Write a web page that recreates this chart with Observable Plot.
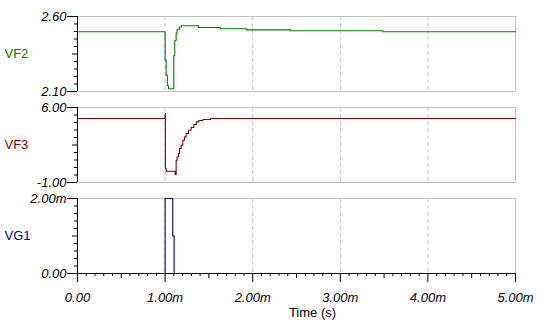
<!DOCTYPE html>
<html>
<head>
<meta charset="utf-8">
<script src="https://cdn.jsdelivr.net/npm/d3@7"></script>
<script src="https://cdn.jsdelivr.net/npm/@observablehq/plot@0.6"></script>
<style>
  html, body { margin: 0; padding: 0; background: #fff; }
  #chart { position: relative; width: 557px; height: 328px; overflow: hidden; }
  #chart svg { position: absolute; left: 0; }
</style>
</head>
<body>
<div id="chart"></div>
<script>
// ---- data (time in ms) ----
const xTicks = [0, 1, 2, 3, 4, 5];
const xTickLabels = ["0.00", "1.00m", "2.00m", "3.00m", "4.00m", "5.00m"];
const xAxisLabel = "Time (s)";

const seriesNames = ["VF2", "VF3", "VG1"];
const seriesColors = ["#008000", "#800000", "#000080"];

const vf2Time  = [0, 1.0, 1.012, 1.026, 1.038, 1.087, 1.099, 1.11, 1.126, 1.137, 1.164, 1.187, 1.381, 1.63, 1.928, 2.432, 3.486, 5];
const vf2Value = [2.498, 2.31, 2.21, 2.14, 2.118, 2.12, 2.34, 2.44, 2.49, 2.515, 2.53, 2.538, 2.527, 2.518, 2.511, 2.505, 2.498, 2.498];
const vf2Domain = [2.10, 2.60];
const vf2TickLabels = ["2.10", "2.60"];

const vf3Time  = [0, 1.0, 1.003, 1.012, 1.114, 1.126, 1.137, 1.152, 1.164, 1.183, 1.202, 1.221, 1.240, 1.267, 1.297, 1.328, 1.355, 1.385, 1.431, 1.519, 5];
const vf3Value = [4.97, 5.44, 0.31, 0.055, -0.256, 1.08, 1.39, 1.70, 2.17, 2.48, 2.95, 3.26, 3.57, 3.88, 4.13, 4.41, 4.66, 4.78, 4.88, 4.97, 4.97];
const vf3Domain = [-1, 6];
const vf3TickLabels = ["-1.00", "6.00"];

const vg1Time  = [0, 1.0, 1.087, 1.103, 5];
const vg1Value = [0, 2, 1, 0, 0]; // in mV
const vg1Domain = [0, 2];
const vg1TickLabels = ["0.00", "2.00m"];

const gridTimes = [1, 2, 3, 4];

// ---- layout ----
const W = 557, ML = 77, MR = 42, MT = 16, PH = 75;
const FONT = "'Liberation Sans', Arial, sans-serif";
const GRAY = "#c0c0c0";
const chart = document.getElementById("chart");
const blank = () => "";

function panel({times, values, domain, tickLabels, name, color, top, isLast}) {
  const [lo, hi] = domain;
  const span = hi - lo;
  const minor = d3.range(1, 10).filter(i => i !== 5).map(i => lo + span * i / 10);
  const data = times.map((t, i) => ({t, v: values[i]}));
  const marks = [
    Plot.ruleX(gridTimes, {stroke: GRAY, strokeDasharray: "4,3"}),
    Plot.ruleY([hi], {stroke: GRAY}),
    Plot.ruleX([5], {stroke: GRAY}),
    isLast ? null : Plot.ruleY([lo], {stroke: GRAY}),
    Plot.ruleX([0], {stroke: "#000"}),
    Plot.axisY(minor, {tickSize: 3, stroke: "#000", tickFormat: blank, label: null}),
    Plot.axisY([lo + span / 2], {tickSize: 5, stroke: "#000", tickFormat: blank, label: null}),
    Plot.axisY([lo, hi], {tickSize: 10, tickPadding: 1, stroke: "#000",
      tickFormat: d => tickLabels[d === lo ? 0 : 1], fontStyle: "italic", fill: "#000", label: null}),
    Plot.text([name], {text: d => d, frameAnchor: "top-left", dx: -73, dy: 32,
      textAnchor: "start", fill: color})
  ];
  if (isLast) {
    const xMinor = d3.range(0, 51).map(i => i / 10).filter((v, i) => i % 5 !== 0);
    const xHalf = [0.5, 1.5, 2.5, 3.5, 4.5];
    marks.push(
      Plot.ruleY([lo], {stroke: "#000"}),
      Plot.axisX(xMinor, {tickSize: 3, stroke: "#000", tickFormat: blank, label: null}),
      Plot.axisX(xHalf, {tickSize: 5, stroke: "#000", tickFormat: blank, label: null}),
      Plot.axisX(xTicks, {tickSize: 9, tickPadding: 10, stroke: "#000", fill: "#000",
        tickFormat: d => xTickLabels[xTicks.indexOf(d)], fontStyle: "italic", label: null}),
      Plot.text([xAxisLabel], {text: d => d, frameAnchor: "bottom", dx: 16, dy: 43.5, fill: "#000"})
    );
  }
  marks.push(Plot.line(data, {x: "t", y: "v", stroke: color, strokeWidth: 1.1, curve: "step-after"}));
  const mb = isLast ? 55 : 4;
  const svg = Plot.plot({
    width: W,
    height: MT + PH + mb,
    marginLeft: ML, marginRight: MR, marginTop: MT, marginBottom: mb,
    x: {domain: [0, 5], axis: null},
    y: {domain: [lo, hi], axis: null},
    style: {fontFamily: FONT, fontSize: "13px", background: "transparent", overflow: "visible", color: "#000"},
    marks: marks.filter(Boolean)
  });
  svg.style.top = top + "px";
  chart.appendChild(svg);
}

panel({times: vf2Time, values: vf2Value, domain: vf2Domain, tickLabels: vf2TickLabels,
  name: seriesNames[0], color: seriesColors[0], top: 0, isLast: false});
panel({times: vf3Time, values: vf3Value, domain: vf3Domain, tickLabels: vf3TickLabels,
  name: seriesNames[1], color: seriesColors[1], top: 91, isLast: false});
panel({times: vg1Time, values: vg1Value, domain: vg1Domain, tickLabels: vg1TickLabels,
  name: seriesNames[2], color: seriesColors[2], top: 182, isLast: true});
</script>
</body>
</html>
